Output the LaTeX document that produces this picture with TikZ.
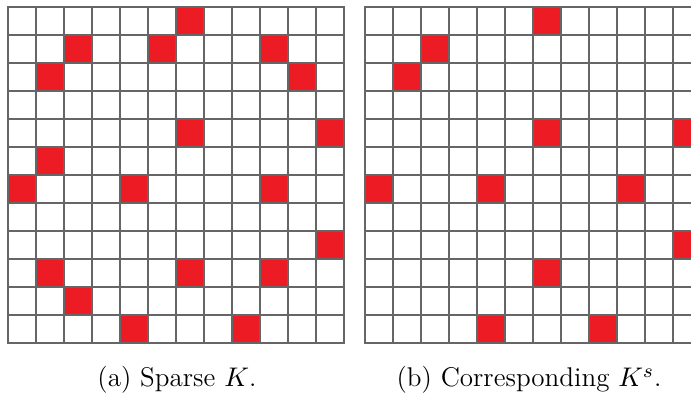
\documentclass[tikz,border=0pt]{standalone}
\usepackage{amsmath,amssymb}
\usepackage{tikz}
\usepackage{xcolor}
\definecolor{cellred}{HTML}{ED1C24}
\definecolor{linegray}{HTML}{666666}

\begin{document}
\begin{tikzpicture}[line cap=rect,font=\fontsize{11}{13}\selectfont]
\useasboundingbox (-0.114,-0.729) rectangle (9.757,4.9);
\begin{scope}
\clip (-0.114,-0.729) rectangle (9.757,4.9);
% left grid
\fill[cellred] (2.4,4.4) rectangle +(0.4,0.4);
\fill[cellred] (0.8,4.0) rectangle +(0.4,0.4);
\fill[cellred] (2.0,4.0) rectangle +(0.4,0.4);
\fill[cellred] (3.6,4.0) rectangle +(0.4,0.4);
\fill[cellred] (0.4,3.6) rectangle +(0.4,0.4);
\fill[cellred] (4.0,3.6) rectangle +(0.4,0.4);
\fill[cellred] (2.4,2.8) rectangle +(0.4,0.4);
\fill[cellred] (4.4,2.8) rectangle +(0.4,0.4);
\fill[cellred] (0.4,2.4) rectangle +(0.4,0.4);
\fill[cellred] (0,2.0) rectangle +(0.4,0.4);
\fill[cellred] (1.6,2.0) rectangle +(0.4,0.4);
\fill[cellred] (3.6,2.0) rectangle +(0.4,0.4);
\fill[cellred] (4.4,1.2) rectangle +(0.4,0.4);
\fill[cellred] (0.4,0.8) rectangle +(0.4,0.4);
\fill[cellred] (2.4,0.8) rectangle +(0.4,0.4);
\fill[cellred] (3.6,0.8) rectangle +(0.4,0.4);
\fill[cellred] (0.8,0.4) rectangle +(0.4,0.4);
\fill[cellred] (1.6,0) rectangle +(0.4,0.4);
\fill[cellred] (3.2,0) rectangle +(0.4,0.4);
\draw[linegray,line width=0.65pt] (0,0) grid[step=0.4] (4.8,4.8);
% right grid
\fill[cellred] (7.5,4.4) rectangle +(0.4,0.4);
\fill[cellred] (5.9,4.0) rectangle +(0.4,0.4);
\fill[cellred] (5.5,3.6) rectangle +(0.4,0.4);
\fill[cellred] (7.5,2.8) rectangle +(0.4,0.4);
\fill[cellred] (9.5,2.8) rectangle +(0.4,0.4);
\fill[cellred] (5.1,2.0) rectangle +(0.4,0.4);
\fill[cellred] (6.7,2.0) rectangle +(0.4,0.4);
\fill[cellred] (8.7,2.0) rectangle +(0.4,0.4);
\fill[cellred] (9.5,1.2) rectangle +(0.4,0.4);
\fill[cellred] (7.5,0.8) rectangle +(0.4,0.4);
\fill[cellred] (6.7,0) rectangle +(0.4,0.4);
\fill[cellred] (8.3,0) rectangle +(0.4,0.4);
\begin{scope}[xshift=5.1cm]
\draw[linegray,line width=0.65pt] (0,0) grid[step=0.4] (4.8,4.8);
\end{scope}
\end{scope}
\node (capa) at (2.414,-0.53) {(a) Sparse $K$.};
\node (capb) at (7.443,-0.53) {(b) Corresponding $K^s$.};
\end{tikzpicture}
\end{document}
